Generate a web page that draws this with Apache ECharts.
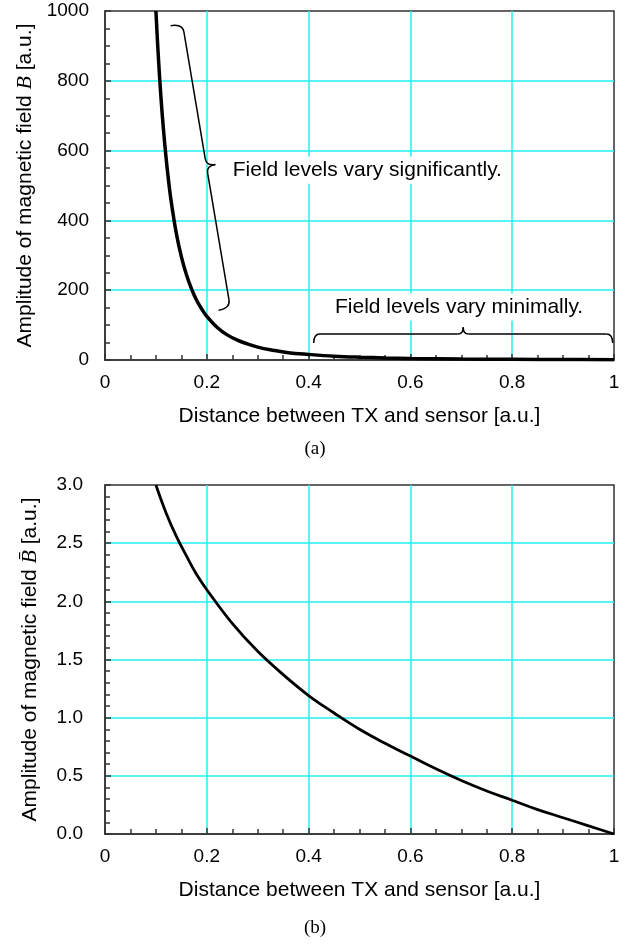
<!DOCTYPE html>
<html>
<head>
<meta charset="utf-8">
<script src="https://cdn.jsdelivr.net/npm/echarts@6/dist/echarts.min.js"></script>
<style>
  html, body { margin: 0; padding: 0; background: #fff; }
  #main { width: 630px; height: 944px; }
</style>
</head>
<body>
<div id="main"></div>
<script>
// (a) linear field amplitude B vs distance
const distA = [0.1, 0.105, 0.11, 0.115, 0.12, 0.125, 0.13, 0.14, 0.15, 0.16, 0.17, 0.18, 0.19, 0.2,
  0.22, 0.24, 0.26, 0.28, 0.3, 0.33, 0.36, 0.4, 0.45, 0.5, 0.55, 0.6, 0.7, 0.8, 0.9, 1.0];
const fieldA = [1000, 864, 751, 658, 579, 512, 455, 364, 296, 244, 204, 171, 146, 125,
  94, 72, 57, 46, 37, 28, 21, 16, 11, 8, 6, 4.6, 2.9, 2, 1.4, 1];

// (b) log field amplitude B-bar vs distance
const distB = [0.1, 0.12, 0.14, 0.16, 0.18, 0.2, 0.25, 0.3, 0.35, 0.4, 0.45, 0.5, 0.55, 0.6,
  0.65, 0.7, 0.75, 0.8, 0.85, 0.9, 0.95, 1.0];
const fieldB = [3.0, 2.76, 2.56, 2.39, 2.23, 2.10, 1.81, 1.57, 1.37, 1.19, 1.04, 0.90, 0.78, 0.67,
  0.56, 0.46, 0.37, 0.29, 0.21, 0.14, 0.07, 0.0];

const xName = 'Distance between TX and sensor [a.u.]';
const yNameA = 'Amplitude of magnetic field {i|B} [a.u.]';
const yNameB = 'Amplitude of magnetic field {i|B\u0304} [a.u.]';
const noteBig = 'Field levels vary significantly.';
const noteSmall = 'Field levels vary minimally.';

const FONT = '"Liberation Sans", Arial, sans-serif';
const SERIF = '"Liberation Serif", "Times New Roman", serif';
const AXIS_COLOR = '#333';
const GRID_COLOR = '#22f0f0';

const myChart = echarts.init(document.getElementById('main'), null, { renderer: 'canvas' });

function xAxisCfg(idx) {
    return {
        type: 'value', gridIndex: idx, min: 0, max: 1, interval: 0.2,
        name: xName, nameLocation: 'middle', nameGap: 46,
        nameTextStyle: { fontFamily: FONT, fontSize: 21, color: '#000' },
        axisLine: { lineStyle: { color: AXIS_COLOR, width: 1.5 } },
        axisTick: { inside: true, length: 6, lineStyle: { color: AXIS_COLOR, width: 1.5 } },
        minorTick: { show: true, splitNumber: 4, length: 5, lineStyle: { color: AXIS_COLOR, width: 1.5 } },
        axisLabel: { fontFamily: FONT, fontSize: 19, color: '#000', margin: 13,
            formatter: v => (v === 0 || v === 1) ? String(v) : v.toFixed(1) },
        splitLine: { show: true, showMinLine: false, showMaxLine: false,
            lineStyle: { color: GRID_COLOR, width: 1.5 } }
    };
}

function yAxisCfg(idx, max, interval, minorSplit, name, labelFmt, margin) {
    return {
        type: 'value', gridIndex: idx, min: 0, max: max, interval: interval,
        name: name, nameLocation: 'middle', nameGap: 64, nameRotate: 90,
        nameTextStyle: { fontFamily: FONT, fontSize: 21, color: '#000',
            rich: { i: { fontFamily: SERIF, fontStyle: 'italic', fontSize: 22, color: '#000' } } },
        axisLine: { lineStyle: { color: AXIS_COLOR, width: 1.5 } },
        axisTick: { inside: true, length: 6, lineStyle: { color: AXIS_COLOR, width: 1.5 } },
        minorTick: { show: true, splitNumber: minorSplit, length: 5, lineStyle: { color: AXIS_COLOR, width: 1.5 } },
        axisLabel: { fontFamily: FONT, fontSize: 19, color: '#000', margin: margin, formatter: labelFmt },
        splitLine: { show: true, showMinLine: false, showMaxLine: false,
            lineStyle: { color: GRID_COLOR, width: 1.5 } }
    };
}

const option = {
    backgroundColor: '#fff',
    animation: false,
    grid: [
        { left: 105, width: 509, top: 11, height: 349, show: true, borderColor: AXIS_COLOR, borderWidth: 1.5 },
        { left: 105, width: 509, top: 485, height: 349, show: true, borderColor: AXIS_COLOR, borderWidth: 1.5 }
    ],
    xAxis: [xAxisCfg(0), xAxisCfg(1)],
    yAxis: [
        yAxisCfg(0, 1000, 200, 4, yNameA, v => String(v), 16),
        yAxisCfg(1, 3, 0.5, 5, yNameB, v => v.toFixed(1), 22)
    ],
    title: [
        { text: '(a)', left: 'center', top: 435,
          textStyle: { fontFamily: SERIF, fontSize: 19, fontWeight: 'normal', color: '#000' } },
        { text: '(b)', left: 'center', top: 914,
          textStyle: { fontFamily: SERIF, fontSize: 19, fontWeight: 'normal', color: '#000' } }
    ],
    series: [
        { type: 'line', xAxisIndex: 0, yAxisIndex: 0, showSymbol: false, smooth: 0.4,
          lineStyle: { color: '#000', width: 3.5 }, z: 5,
          data: distA.map((d, i) => [d, fieldA[i]]) },
        { type: 'line', xAxisIndex: 1, yAxisIndex: 1, showSymbol: false, smooth: 0.4,
          lineStyle: { color: '#000', width: 2.8 }, z: 5,
          data: distB.map((d, i) => [d, fieldB[i]]) }
    ]
};
myChart.setOption(option);

// --- annotations: braces and notes placed in data coordinates of panel (a)
function px(d, b) { return myChart.convertToPixel({ gridIndex: 0 }, [d, b]); }

// spine from a to b, tip bulges to the left-hand normal of a->b (screen coords), hook size h
function brace(a, b, h) {
    const dx = b[0] - a[0], dy = b[1] - a[1];
    const len = Math.hypot(dx, dy);
    const u = [dx / len, dy / len];
    const n = [u[1], -u[0]];
    const add = (p, v, k) => [p[0] + v[0] * k, p[1] + v[1] * k];
    const m = [(a[0] + b[0]) / 2, (a[1] + b[1]) / 2];
    const s = h * 0.6;
    const e1 = add(add(a, n, -h), u, -h * 0.7);
    const e2 = add(add(b, n, -h), u, h * 0.7);
    const tip = add(m, n, h * 0.75);
    const st = { stroke: '#000', lineWidth: 1.5, fill: null };
    const q = (p0, cp, p1) => ({ type: 'bezierCurve', silent: true, z: 10,
        shape: { x1: p0[0], y1: p0[1], cpx1: cp[0], cpy1: cp[1], x2: p1[0], y2: p1[1] }, style: st });
    const l = (p0, p1) => ({ type: 'line', silent: true, z: 10,
        shape: { x1: p0[0], y1: p0[1], x2: p1[0], y2: p1[1] }, style: st });
    return [
        q(e1, add(a, u, -h * 0.7), a),
        l(a, add(m, u, -s)),
        q(add(m, u, -s), m, tip),
        q(tip, m, add(m, u, s)),
        l(add(m, u, s), b),
        q(b, add(b, u, h * 0.7), e2)
    ];
}

function note(text, d, b) {
    const p = px(d, b);
    return { type: 'text', silent: true, z: 9, x: p[0], y: p[1],
        style: { text: text, font: '21px ' + FONT, fill: '#000', verticalAlign: 'middle',
            backgroundColor: '#fff', padding: [3, 3] } };
}

const graphics = []
    .concat(brace(px(0.155, 940), px(0.2436, 172), 12))
    .concat(brace(px(0.4224, 74.5), px(0.985, 74.5), 9))
    .concat([note(noteBig, 0.245, 544), note(noteSmall, 0.446, 152)]);

myChart.setOption({ graphic: graphics });
</script>
</body>
</html>
